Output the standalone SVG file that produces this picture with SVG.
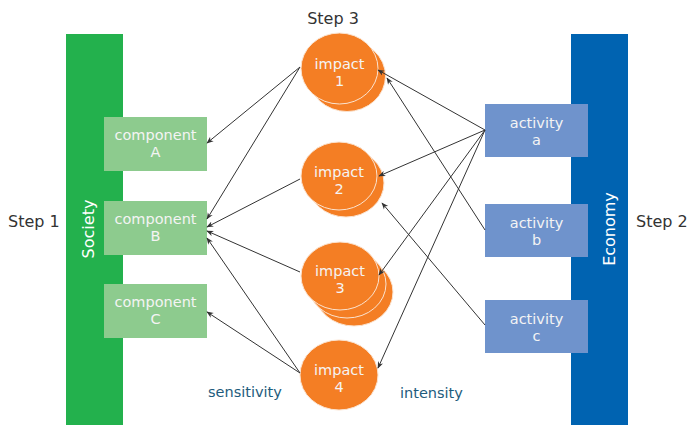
<svg xmlns="http://www.w3.org/2000/svg" width="687" height="425" viewBox="0 0 687 425">
  <style>
    .step { font-family: "DejaVu Sans", Verdana, sans-serif; font-size: 16px; fill: #333333; }
    .bar-label { font-family: "DejaVu Sans", Verdana, sans-serif; font-size: 16px; fill: #ffffff; text-anchor: middle; }
    .box-label { font-family: "DejaVu Sans", Verdana, sans-serif; font-size: 14.5px; fill: #f4f4f4; text-anchor: middle; }
    .axis-label { font-family: "DejaVu Sans", Verdana, sans-serif; font-size: 14.5px; fill: #1e5b7c; }
    .component { fill: #8dcb8e; }
    .activity { fill: #6f93cc; }
    .impact { fill: #f47e24; stroke: #fbe3cf; stroke-width: 1; }
    .link { stroke: #333333; stroke-width: 1; fill: none; marker-end: url(#arrow); }
  </style>
  <defs>
    <marker id="arrow" viewBox="0 0 10 10" refX="9" refY="5" markerWidth="7" markerHeight="7" orient="auto" markerUnits="userSpaceOnUse">
      <path d="M0,1 L10,5 L0,9 L3,5 Z" fill="#333333"/>
    </marker>
  </defs>

  <rect width="687" height="425" fill="#ffffff"/>

  <!-- step headings -->
  <text class="step" x="333" y="24" text-anchor="middle">Step 3</text>
  <text class="step" x="8" y="227">Step 1</text>
  <text class="step" x="636" y="227">Step 2</text>

  <!-- Society column -->
  <g id="society">
    <rect x="66" y="34" width="57" height="391" fill="#23b14d"/>
    <text class="bar-label" transform="translate(94,229) rotate(-90)">Society</text>
  </g>

  <!-- Economy column -->
  <g id="economy">
    <rect x="571" y="34" width="57" height="391" fill="#0063b1"/>
    <text class="bar-label" transform="translate(615,229) rotate(-90)">Economy</text>
  </g>

  <!-- components -->
  <g id="component-a">
    <rect class="component" x="104" y="117" width="103" height="54"/>
    <text class="box-label" x="155.5" y="140">component</text>
    <text class="box-label" x="155.5" y="157">A</text>
  </g>
  <g id="component-b">
    <rect class="component" x="104" y="201" width="103" height="54"/>
    <text class="box-label" x="155.5" y="224">component</text>
    <text class="box-label" x="155.5" y="241">B</text>
  </g>
  <g id="component-c">
    <rect class="component" x="104" y="284" width="103" height="54"/>
    <text class="box-label" x="155.5" y="307">component</text>
    <text class="box-label" x="155.5" y="324">C</text>
  </g>

  <!-- activities -->
  <g id="activity-a">
    <rect class="activity" x="485" y="104" width="103" height="53"/>
    <text class="box-label" x="536.5" y="128">activity</text>
    <text class="box-label" x="536.5" y="145">a</text>
  </g>
  <g id="activity-b">
    <rect class="activity" x="485" y="204" width="103" height="53"/>
    <text class="box-label" x="536.5" y="228">activity</text>
    <text class="box-label" x="536.5" y="245">b</text>
  </g>
  <g id="activity-c">
    <rect class="activity" x="485" y="300" width="103" height="53"/>
    <text class="box-label" x="536.5" y="324">activity</text>
    <text class="box-label" x="536.5" y="341">c</text>
  </g>

  <!-- impacts -->
  <g id="impact-1">
    <ellipse class="impact" cx="347" cy="76" rx="38.5" ry="35.5"/>
    <ellipse class="impact" cx="339.5" cy="68.5" rx="38.5" ry="35.5"/>
    <text class="box-label" x="339.5" y="69">impact</text>
    <text class="box-label" x="339.5" y="86">1</text>
  </g>
  <g id="impact-2">
    <ellipse class="impact" cx="346" cy="183" rx="38" ry="34"/>
    <ellipse class="impact" cx="339" cy="176" rx="38" ry="34"/>
    <text class="box-label" x="339" y="177">impact</text>
    <text class="box-label" x="339" y="194">2</text>
  </g>
  <g id="impact-3">
    <ellipse class="impact" cx="354" cy="292" rx="39" ry="34"/>
    <ellipse class="impact" cx="347" cy="284" rx="39" ry="34"/>
    <ellipse class="impact" cx="340" cy="276" rx="39" ry="34"/>
    <text class="box-label" x="340" y="276">impact</text>
    <text class="box-label" x="340" y="293">3</text>
  </g>
  <g id="impact-4">
    <ellipse class="impact" cx="339" cy="375" rx="39" ry="35"/>
    <text class="box-label" x="339" y="375">impact</text>
    <text class="box-label" x="339" y="392">4</text>
  </g>

  <!-- axis captions -->
  <text class="axis-label" x="208" y="397">sensitivity</text>
  <text class="axis-label" x="400" y="398">intensity</text>

  <!-- connectors -->
  <g id="connectors">
    <line class="link" x1="300" y1="67" x2="207" y2="143"/>
    <line class="link" x1="300" y1="67" x2="207" y2="219"/>
    <line class="link" x1="300" y1="179" x2="207" y2="227"/>
    <line class="link" x1="300" y1="272" x2="207" y2="231"/>
    <line class="link" x1="300" y1="373" x2="207" y2="238"/>
    <line class="link" x1="300" y1="373" x2="207" y2="312"/>

    <line class="link" x1="485" y1="130" x2="378" y2="70"/>
    <line class="link" x1="485" y1="130" x2="379" y2="176"/>
    <line class="link" x1="485" y1="130" x2="379" y2="275"/>
    <line class="link" x1="485" y1="130" x2="378" y2="368"/>
    <line class="link" x1="485" y1="230" x2="387" y2="78"/>
    <line class="link" x1="485" y1="325" x2="382" y2="203"/>
  </g>
</svg>
